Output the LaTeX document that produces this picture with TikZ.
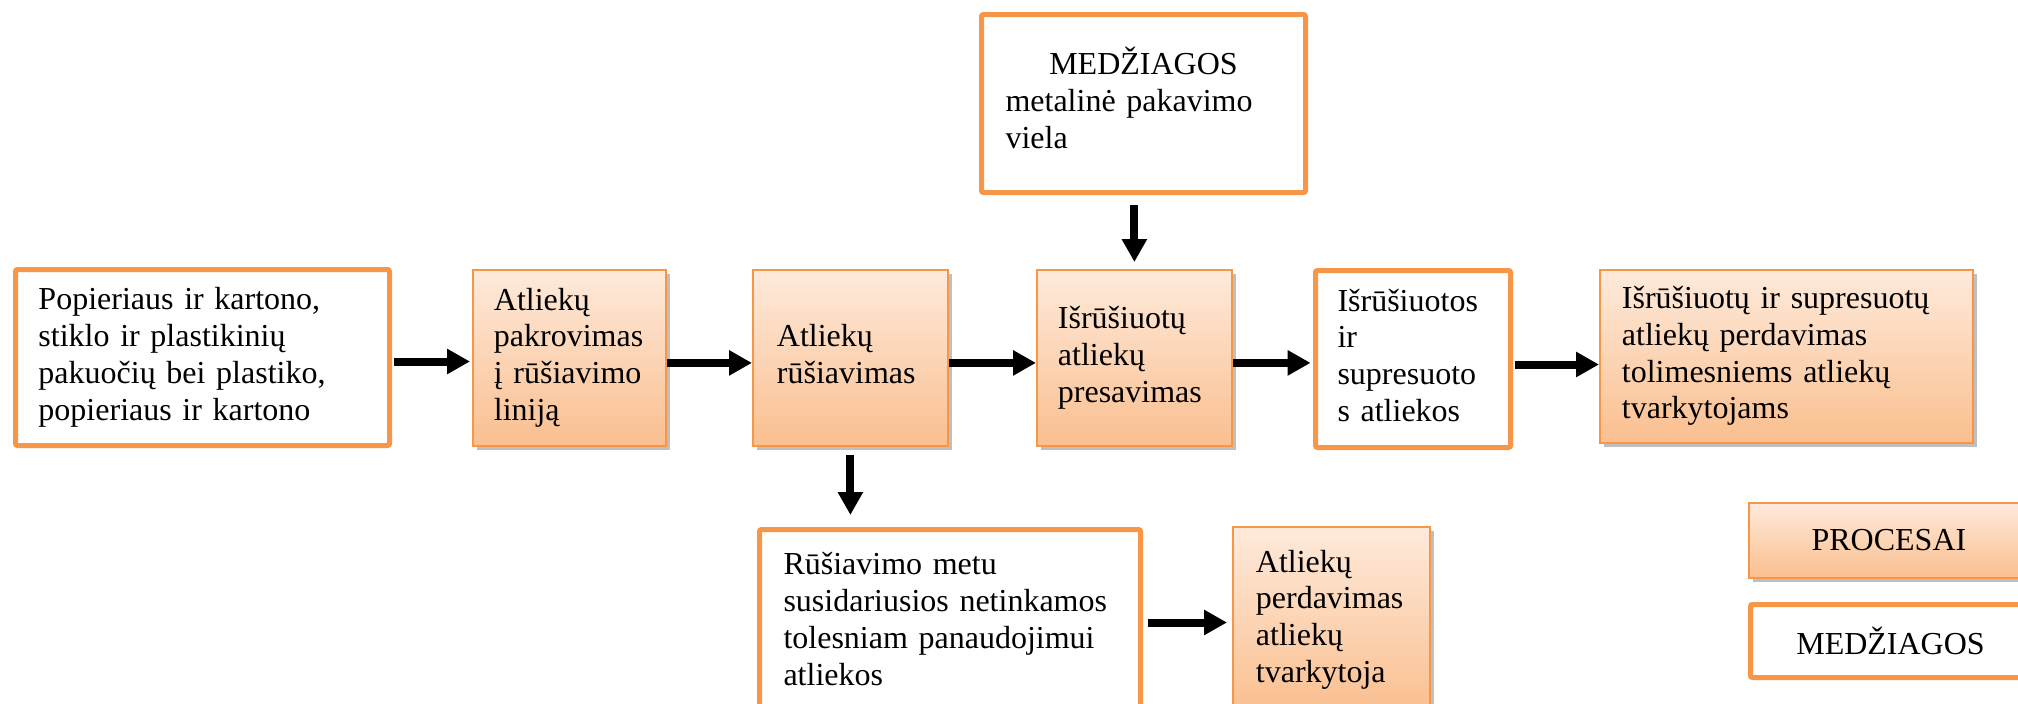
\documentclass[tikz,border=0pt]{standalone}
\usepackage{fontspec}
\setmainfont{Liberation Serif}
\usetikzlibrary{arrows.meta,shadows,calc}
\definecolor{orng}{HTML}{F79646}
\definecolor{ptop}{HTML}{FEEADB}
\definecolor{pbot}{HTML}{FABF8F}
\newcommand{\ml}[1]{\begin{tabular}{@{}l@{}}#1\end{tabular}}
\begin{document}
\begin{tikzpicture}[x=0.5pt,y=-0.5pt,
  every node/.style={font=\fontsize{16}{18.4}\selectfont, inner sep=0pt, anchor=north west, align=left},
  mat/.style={draw=orng, line width=2.5pt, fill=white, rounded corners=1pt},
  proc/.style={draw=orng, line width=0.9pt, top color=ptop, bottom color=pbot,
    drop shadow={shadow xshift=1.8pt, shadow yshift=-2pt, fill=black, opacity=0.25}},
  arr/.style={line width=4pt, -{Triangle[length=11.5pt,width=12pt]}}
]
\useasboundingbox (0,0) rectangle (2018,703);
\clip (0,0) rectangle (2018,703);

% top material box
\node[mat, minimum width=162pt, minimum height=89pt, text width=138pt] (m0) at (979,12)
  {\ml{\makebox[138pt]{MEDŽIAGOS}\\ metalinė pakavimo\\ viela}};

% main row
\node[mat, minimum width=187pt, minimum height=88pt, text width=164pt] (b1) at (13,267)
  {\ml{Popieriaus ir kartono,\\ stiklo ir plastikinių\\ pakuočių bei plastiko,\\ popieriaus ir kartono}};
\node[proc, minimum width=96.5pt, minimum height=88pt, text width=75.5pt] (b2) at (472,269)
  {\ml{Atliekų\\ pakrovimas\\ į rūšiavimo\\ liniją}};
\node[proc, minimum width=97.5pt, minimum height=88pt, text width=73.5pt] (b3) at (752,269)
  {\ml{Atliekų\\ rūšiavimas}};
\node[proc, minimum width=97.5pt, minimum height=88pt, text width=76.5pt] (b4) at (1036,269)
  {\ml{Išrūšiuotų\\ atliekų\\ presavimas}};
\node[mat, minimum width=97.5pt, minimum height=88.5pt, text width=75.5pt] (b5) at (1313,268)
  {\ml{Išrūšiuotos\\ ir\\ supresuoto\\ s atliekos}};
\node[proc, minimum width=186.5pt, minimum height=86.5pt, text width=164.5pt] (b6) at (1599,269)
  {\ml{Išrūšiuotų ir supresuotų\\ atliekų perdavimas\\ tolimesniems atliekų\\ tvarkytojams}};

% lower row
\node[mat, minimum width=190.5pt, minimum height=93pt, text width=166.5pt] (b7) at (757,527)
  {\ml{Rūšiavimo metu\\ susidariusios netinkamos\\ tolesniam panaudojimui\\ atliekos}};
\node[proc, minimum width=98.5pt, minimum height=93pt, text width=75.5pt] (b8) at (1232,526)
  {\ml{Atliekų\\ perdavimas\\ atliekų\\ tvarkytoja}};

% legend
\node[proc, minimum width=140pt, minimum height=37.5pt, align=center] (l1) at (1748,502) {PROCESAI};
\node[mat, minimum width=140pt, minimum height=36.5pt, align=center] (l2) at (1748,602) {MEDŽIAGOS};

% connectors
\draw[arr, shorten <=1pt, shorten >=1pt] ([yshift=-2pt]b1.east) -- ([yshift=-2pt]b1.east -| b2.west);
\draw[arr] ([yshift=-2.5pt]b2.east) -- ([yshift=-2.5pt]b2.east -| b3.west);
\draw[arr] ([yshift=-2.5pt]b3.east) -- ([yshift=-2.5pt]b3.east -| b4.west);
\draw[arr, shorten >=1.2pt] ([yshift=-2.5pt]b4.east) -- ([yshift=-2.5pt]b4.east -| b5.west);
\draw[arr, shorten <=1.2pt] ([yshift=-2.75pt]b5.east) -- ([yshift=-2.75pt]b5.east -| b6.west);
\draw[arr, shorten <=5pt, shorten >=3.5pt] (b4.north |- m0.south) -- (b4.north);
\draw[arr, shorten <=4pt, shorten >=6pt] (b3.south) -- (b3.south |- b7.north);
\draw[arr, shorten <=2.5pt, shorten >=2.5pt] (b7.east) -- (b7.east -| b8.west);
\end{tikzpicture}
\end{document}
